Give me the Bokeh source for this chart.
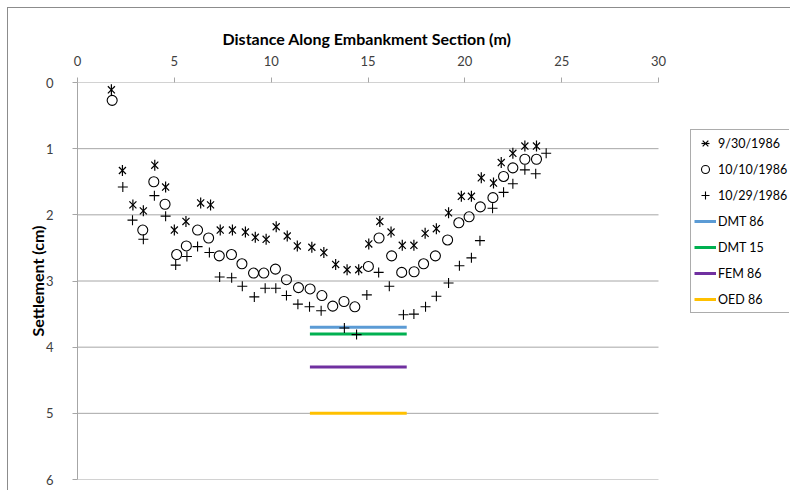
from bokeh.plotting import figure
from bokeh.models import Range1d, FixedTicker, Legend, LegendItem, Title
from bokeh.embed import file_html
from bokeh.resources import INLINE
import math

# ---- data ----
x_ticks = [0, 5, 10, 15, 20, 25, 30]
y_ticks = [0, 1, 2, 3, 4, 5, 6]

dist_0930 = [1.75, 2.32, 2.86, 3.40, 3.99, 4.55, 5.00, 5.60, 6.36, 6.87, 7.37, 8.00, 8.67,
             9.18, 9.74, 10.26, 10.83, 11.35, 12.10, 12.72, 13.33, 13.92, 14.52, 15.04,
             15.61, 16.19, 16.77, 17.37, 17.95, 18.53, 19.16, 19.82, 20.34, 20.85, 21.48,
             21.88, 22.48, 23.10, 23.70]
settle_0930 = [0.11, 1.33, 1.85, 1.94, 1.25, 1.58, 2.23, 2.10, 1.82, 1.85, 2.23, 2.23, 2.26,
               2.34, 2.37, 2.18, 2.32, 2.47, 2.49, 2.57, 2.75, 2.83, 2.83, 2.44, 2.10, 2.26,
               2.46, 2.46, 2.28, 2.21, 1.97, 1.72, 1.72, 1.44, 1.52, 1.21, 1.07, 0.96, 0.96]

dist_1010 = [1.79, 3.37, 3.94, 4.52, 5.12, 5.62, 6.20, 6.77, 7.32, 7.95, 8.49, 9.09, 9.62,
             10.22, 10.79, 11.41, 12.01, 12.62, 13.18, 13.76, 14.32, 15.02, 15.57, 16.22,
             16.74, 17.38, 17.87, 18.48, 19.11, 19.69, 20.22, 20.80, 21.45, 22.00, 22.48,
             23.10, 23.70]
settle_1010 = [0.27, 2.23, 1.50, 1.84, 2.60, 2.47, 2.23, 2.35, 2.62, 2.60, 2.74, 2.88, 2.88,
               2.82, 2.98, 3.10, 3.12, 3.22, 3.38, 3.31, 3.39, 2.78, 2.35, 2.62, 2.87, 2.86,
               2.74, 2.62, 2.38, 2.12, 2.03, 1.88, 1.74, 1.42, 1.29, 1.16, 1.16]

dist_1029 = [2.34, 2.84, 3.40, 3.97, 4.55, 5.07, 5.65, 6.20, 6.81, 7.34, 7.96, 8.51, 9.13,
             9.69, 10.24, 10.79, 11.38, 11.98, 12.58, 13.78, 14.41, 14.94, 15.55, 16.10,
             16.83, 17.37, 17.97, 18.53, 19.16, 19.72, 20.34, 20.78, 21.43, 22.00, 22.48,
             23.10, 23.66, 24.20]
settle_1029 = [1.58, 2.08, 2.37, 1.71, 2.02, 2.76, 2.63, 2.48, 2.57, 2.94, 2.95, 3.08, 3.24,
               3.11, 3.11, 3.22, 3.35, 3.39, 3.45, 3.71, 3.81, 3.21, 2.87, 3.08, 3.51, 3.50,
               3.39, 3.23, 3.03, 2.77, 2.65, 2.39, 1.90, 1.66, 1.53, 1.32, 1.38, 1.07]

method_x = [12, 17]
dmt86_y = [3.7, 3.7]
dmt15_y = [3.8, 3.8]
fem86_y = [4.3, 4.3]
oed86_y = [5.0, 5.0]

FONT = "Lato"
GRID = "#a6a6a6"
BORDER = "#8c8c8c"

# layout: plot area spans x 77..658 px for 0..30 m; the frame is widened to the
# right edge so the legend (drawn inside the frame) is not clipped.
W, H = 790, 490
PLOT_L, PLOT_R = 77, 658
FRAME_R = W - 1
x_end = x_ticks[-1] * (FRAME_R - PLOT_L) / (PLOT_R - PLOT_L)

p = figure(width=W, height=H, output_backend="svg", toolbar_location=None,
           x_range=Range1d(0, x_end), y_range=Range1d(6, 0), x_axis_location="above",
           min_border_left=PLOT_L, min_border_right=W - FRAME_R, min_border_top=82,
           min_border_bottom=11)
p.outline_line_color = None
p.border_fill_color = None
p.background_fill_color = None
p.styles = {
    "background-image": (f"linear-gradient({BORDER}, {BORDER}), "
                         f"linear-gradient({BORDER}, {BORDER})"),
    "background-position": "7px 7px, 7px 7px",
    "background-size": "1px 100%, 100% 1px",
    "background-repeat": "no-repeat",
}

p.xgrid.visible = False
p.ygrid.visible = False

# horizontal gridlines (and top axis line) spanning 0..30 only
grid_y = y_ticks
p.segment(x0=[x_ticks[0]] * len(grid_y), x1=[x_ticks[-1]] * len(grid_y),
          y0=grid_y, y1=grid_y, line_color=GRID, line_width=1)

for ax, ticks in ((p.xaxis, x_ticks), (p.yaxis, y_ticks)):
    ax.ticker = FixedTicker(ticks=ticks)
    ax.axis_line_color = GRID
    ax.major_tick_line_color = GRID
    ax.major_tick_out = 5
    ax.major_tick_in = 0
    ax.minor_tick_line_color = None
    ax.major_label_text_font = FONT
    ax.major_label_text_font_size = "13px"
    ax.major_label_text_color = "#404040"
    ax.axis_label_text_font = FONT
    ax.axis_label_text_font_size = "16px"
    ax.axis_label_text_font_style = "bold"
    ax.axis_label_text_color = "#000000"

p.xaxis.axis_line_color = None
p.xaxis.major_label_standoff = 12
p.yaxis.axis_label = "Settlement (cm)"
p.yaxis.major_label_standoff = 19
p.yaxis.axis_label_standoff = -4

p.add_layout(Title(text="Distance Along Embankment Section (m)", align="left",
                   offset=222 - PLOT_L, standoff=9, text_font=FONT,
                   text_font_size="16px", text_font_style="bold", text_color="#000000"),
             "above")

# method lines (drawn first so markers sit on top)
r_dmt86 = p.line(method_x, dmt86_y, line_color="#5b9bd5", line_width=3)
r_dmt15 = p.line(method_x, dmt15_y, line_color="#00b050", line_width=3)
r_fem86 = p.line(method_x, fem86_y, line_color="#7030a0", line_width=3)
r_oed86 = p.line(method_x, oed86_y, line_color="#ffc000", line_width=3)

r_a1 = p.scatter(dist_0930, settle_0930, marker="x", size=10, line_color="black", line_width=1.2)
r_a2 = p.scatter(dist_0930, settle_0930, marker="dash", size=11, angle=math.pi / 2,
                 line_color="black", line_width=1.2)
r_c = p.scatter(dist_1010, settle_1010, marker="circle", size=10, fill_color=None,
                line_color="black", line_width=1.1)
r_p = p.scatter(dist_1029, settle_1029, marker="cross", size=10, line_color="black", line_width=1.1)

legend = Legend(items=[
    LegendItem(label="9/30/1986", renderers=[r_a1, r_a2]),
    LegendItem(label="10/10/1986", renderers=[r_c]),
    LegendItem(label="10/29/1986", renderers=[r_p]),
    LegendItem(label="DMT 86", renderers=[r_dmt86]),
    LegendItem(label="DMT 15", renderers=[r_dmt15]),
    LegendItem(label="FEM 86", renderers=[r_fem86]),
    LegendItem(label="OED 86", renderers=[r_oed86]),
], location=(690 - PLOT_L, 479 - 313))
legend.border_line_color = "#595959"
legend.border_line_width = 1
legend.background_fill_color = "white"
legend.background_fill_alpha = 1
legend.padding = 3
legend.margin = 0
legend.spacing = 6
legend.glyph_width = 22
legend.glyph_height = 20
legend.label_height = 20
legend.label_standoff = 2
legend.label_text_font = FONT
legend.label_text_font_size = "12.5px"
legend.label_text_color = "#000000"
p.add_layout(legend)

open("out.html", "w").write(file_html(p, INLINE))
